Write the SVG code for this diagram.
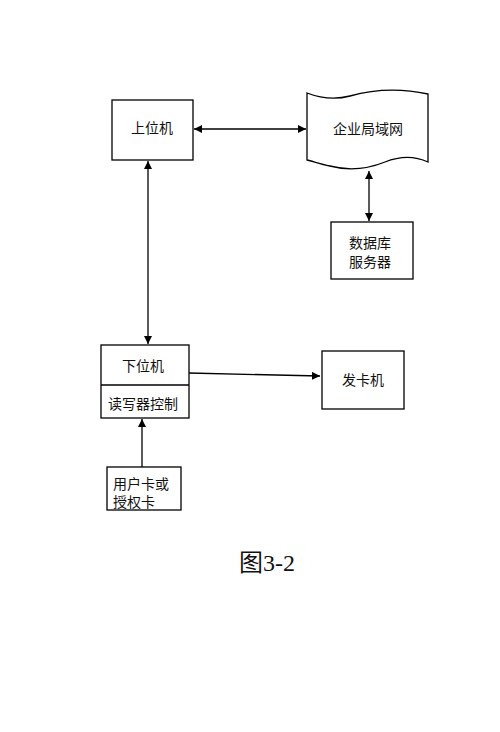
<svg xmlns="http://www.w3.org/2000/svg" width="500" height="732" viewBox="0 0 500 732">
<style>
.box{fill:#fff;stroke:#000;stroke-width:1.3}
.t{font-family:"Liberation Sans","Noto Sans CJK SC",sans-serif;font-size:14px;fill:#111}
.c{stroke:#000;stroke-width:1.3;fill:none}
</style>
<defs>
<marker id="ah" viewBox="0 0 10 10" refX="10" refY="5" markerWidth="8" markerHeight="8" markerUnits="userSpaceOnUse" orient="auto-start-reverse">
<path d="M0,0 L10,5 L0,10 z" fill="#000"/>
</marker>
</defs>
<rect width="500" height="732" fill="#fff"/>
<g id="connectors">
<line class="c" x1="194" y1="129" x2="306" y2="129" marker-start="url(#ah)" marker-end="url(#ah)"/>
<line class="c" x1="369" y1="171" x2="369" y2="221" marker-start="url(#ah)" marker-end="url(#ah)"/>
<line class="c" x1="148" y1="161" x2="148" y2="344" marker-start="url(#ah)" marker-end="url(#ah)"/>
<line class="c" x1="189" y1="373" x2="320" y2="376" marker-end="url(#ah)"/>
<line class="c" x1="142" y1="467" x2="142" y2="419" marker-end="url(#ah)"/>
</g>
<g id="upper">
<rect class="box" x="112" y="100" width="81" height="60"/>
<text class="t" x="152" y="133" text-anchor="middle">上位机</text>
</g>
<g id="lan">
<path class="box" d="M307,93 C320,98 335,100 350,96 C375,89 400,88 428,94 L428,162 C415,156 400,156 385,162 C365,170 345,170 330,166 C320,164 312,161 307,160 Z"/>
<text class="t" x="368" y="134" text-anchor="middle">企业局域网</text>
</g>
<g id="db">
<rect class="box" x="331" y="222" width="82" height="57"/>
<text class="t" x="370" y="248" text-anchor="middle">数据库</text>
<text class="t" x="370" y="267" text-anchor="middle">服务器</text>
</g>
<g id="lower">
<rect class="box" x="101" y="345" width="88" height="73"/>
<line class="c" x1="101" y1="385" x2="189" y2="385"/>
<text class="t" x="143" y="371" text-anchor="middle">下位机</text>
<text class="t" x="143" y="409" text-anchor="middle">读写器控制</text>
</g>
<g id="cardmachine">
<rect class="box" x="322" y="351" width="82" height="58"/>
<text class="t" x="363" y="385" text-anchor="middle">发卡机</text>
</g>
<g id="card">
<rect class="box" x="107" y="467" width="74" height="43"/>
<text class="t" x="113" y="489">用户卡或</text>
<text class="t" x="113" y="507">授权卡</text>
</g>
<text x="267" y="571" text-anchor="middle" font-family="'Liberation Serif','Noto Sans CJK SC',serif" font-size="24" fill="#111">图3-2</text>
</svg>
